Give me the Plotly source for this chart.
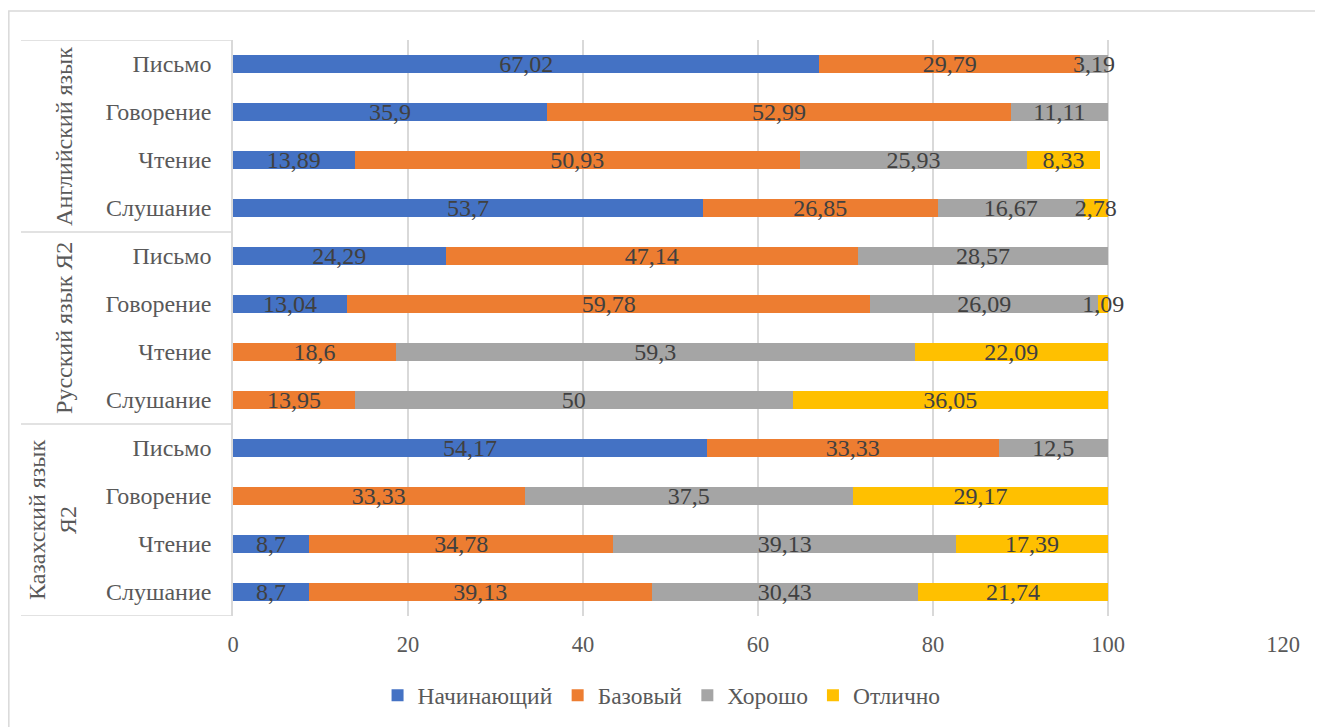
import plotly.graph_objects as go

# Data (top to bottom as displayed)
groups = ["Английский язык", "Русский язык Я2", "Казахский язык<br>Я2"]
skills = ["Письмо", "Говорение", "Чтение", "Слушание"]
series_names = ["Начинающий", "Базовый", "Хорошо", "Отлично"]
colors = ["#4472C4", "#ED7D31", "#A5A5A5", "#FFC000"]

nachinayushiy = [67.02, 35.9, 13.89, 53.7, 24.29, 13.04, None, None, 54.17, None, 8.7, 8.7]
bazovyy = [29.79, 52.99, 50.93, 26.85, 47.14, 59.78, 18.6, 13.95, 33.33, 33.33, 34.78, 39.13]
khorosho = [3.19, 11.11, 25.93, 16.67, 28.57, 26.09, 59.3, 50, 12.5, 37.5, 39.13, 30.43]
otlichno = [None, None, 8.33, 2.78, None, 1.09, 22.09, 36.05, None, 29.17, 17.39, 21.74]

series = [nachinayushiy, bazovyy, khorosho, otlichno]
cat_labels = skills * len(groups)
ypos = list(range(len(cat_labels)))

FONT = "Liberation Serif"

def fmt(v):
    if v is None:
        return ""
    return ("%g" % v).replace(".", ",")

fig = go.Figure()
for name, vals, col in zip(series_names, series, colors):
    fig.add_trace(go.Bar(
        name=name, orientation="h", x=vals, y=ypos,
        marker=dict(color=col, line=dict(width=0)),
        text=[fmt(v) for v in vals], textposition="inside",
        insidetextanchor="middle", textangle=0,
        textfont=dict(family=FONT, size=24, color="#404040"),
        constraintext="none", cliponaxis=False,
    ))

shapes = []
n_per = len(skills)
for k in range(len(groups) + 1):
    yv = k * n_per - 0.5
    shapes.append(dict(type="line", xref="paper", yref="y", x0=-0.2019, x1=0,
                       y0=yv, y1=yv, line=dict(color="#D9D9D9", width=1.5)))
shapes.append(dict(type="rect", xref="paper", yref="paper", x0=-0.2135, x1=1.2,
                   y0=-0.3, y1=1.0503, line=dict(color="#D9D9D9", width=1.5),
                   fillcolor="rgba(0,0,0,0)", layer="below"))

annotations = []
for k, g in enumerate(groups):
    annotations.append(dict(
        text=g, xref="paper", yref="y", x=-0.161 if k < 2 else -0.1724,
        y=k * n_per + (n_per - 1) / 2, textangle=-90, showarrow=False,
        xanchor="center", yanchor="middle",
        font=dict(family=FONT, size=24, color="#595959")))

fig.update_layout(
    width=1315, height=719,
    margin=dict(l=225, r=40, t=32, b=111),
    barmode="stack", bargap=0.62,
    paper_bgcolor="white", plot_bgcolor="white",
    font=dict(family=FONT, color="#595959"),
    uniformtext=dict(minsize=24, mode="show"),
    shapes=shapes, annotations=annotations,
    legend=dict(orientation="h", xref="container", yref="container",
                x=0.497, xanchor="center", y=0.044, yanchor="middle",
                font=dict(family=FONT, size=23.5, color="#595959"),
                traceorder="normal", itemwidth=30),
    xaxis=dict(range=[0, 120], dtick=20, tick0=0, showgrid=True,
               gridcolor="#D9D9D9", gridwidth=1.5, zeroline=False,
               showline=False, tickfont=dict(family=FONT, size=22.5, color="#595959"),
               ticks="", ticklabelstandoff=12),
    yaxis=dict(tickmode="array", tickvals=ypos, ticktext=cat_labels,
               autorange=False, range=[len(ypos) - 0.5, -0.5],
               showline=True, linecolor="#D9D9D9", linewidth=1.5,
               showgrid=False, zeroline=False, ticks="",
               ticklabelstandoff=15,
               tickfont=dict(family=FONT, size=24, color="#595959")),
)

fig.write_html("out.html")
